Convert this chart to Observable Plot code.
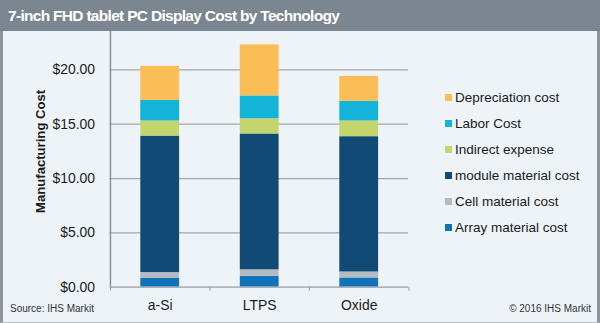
<!DOCTYPE html>
<html><head><meta charset="utf-8">
<script src="https://cdn.jsdelivr.net/npm/d3@7"></script>
<script src="https://cdn.jsdelivr.net/npm/@observablehq/plot@0.6"></script>
<style>
html,body{margin:0;padding:0;}
body{width:600px;height:323px;overflow:hidden;font-family:Arial,"Liberation Sans",sans-serif;}
#wrap{position:relative;width:600px;height:323px;background:#eef3f8;box-sizing:border-box;border-left:3px solid #8e959d;border-right:3px solid #8e959d;border-bottom:1px solid #b5bbc1;}
#title{position:absolute;left:-3px;top:0;width:600px;height:31px;background:#7c8691;color:#fff;font-weight:bold;font-size:15.5px;line-height:32px;padding-left:8px;box-sizing:border-box;letter-spacing:-0.7px;}
#chart{position:absolute;left:-3px;top:31px;}
#legend{position:absolute;left:442px;top:89px;}
.li{height:26px;line-height:18px;font-size:13.5px;color:#1a1a1a;white-space:nowrap;}
.sw{display:inline-block;width:7px;height:7px;margin-right:3px;vertical-align:1px;}
#src{position:absolute;left:7px;top:303px;font-size:10px;color:#333;}
#copy{position:absolute;right:6px;top:303px;font-size:10px;color:#333;}
</style></head>
<body>
<div id="wrap">
<div id="title">7-inch FHD tablet PC Display Cost by Technology</div>
<div id="chart"></div>
<div id="legend"></div>
<div id="src">Source: IHS Markit</div>
<div id="copy">© 2016 IHS Markit</div>
</div>
<script>
const categories = ["a-Si", "LTPS", "Oxide"];
const seriesNames = ["Array material cost", "Cell material cost", "module material cost", "Indirect expense", "Labor Cost", "Depreciation cost"];
const seriesColors = ["#1173b9", "#b3bac2", "#114a75", "#c3d56b", "#14b4d8", "#fbbd55"];
const arrayMaterial = [0.80, 1.00, 0.85];
const cellMaterial = [0.55, 0.60, 0.55];
const moduleMaterial = [12.55, 12.50, 12.45];
const indirectExpense = [1.40, 1.40, 1.45];
const laborCost = [1.90, 2.10, 1.80];
const depreciationCost = [3.13, 4.70, 2.30];
const yTicks = [0, 5, 10, 15, 20];

const seriesValues = [arrayMaterial, cellMaterial, moduleMaterial, indirectExpense, laborCost, depreciationCost];
const rows = [];
seriesNames.forEach((s, i) => categories.forEach((c, j) => rows.push({tech: c, series: s, value: seriesValues[i][j]})));

const plot = Plot.plot({
  width: 600, height: 292,
  marginLeft: 110, marginRight: 190, marginTop: 0, marginBottom: 35,
  style: {background: "transparent", fontFamily: "Arial, 'Liberation Sans', sans-serif"},
  x: {domain: categories, paddingInner: 0.61, paddingOuter: 0.305},
  y: {domain: [0, 23.53]},
  color: {domain: seriesNames, range: seriesColors},
  marks: [
    Plot.ruleY(yTicks.filter(d => d > 0), {stroke: "#a3a6aa", strokeWidth: 1.2}),
    Plot.barY(rows, {x: "tech", y: "value", fill: "series", order: seriesNames}),
    Plot.ruleY([0], {stroke: "#9a9ea3", strokeWidth: 1.2}),
    Plot.ruleX(categories, {x: d => d, dx: -50, y1: 0, y2: 0, insetBottom: -4, stroke: "#9a9ea3"}),
    Plot.ruleX(categories.slice(-1), {x: d => d, dx: 50, y1: 0, y2: 0, insetBottom: -4, stroke: "#9a9ea3"}),
    Plot.ruleX(categories.slice(0, 1), {x: d => d, dx: -50, stroke: "#8d9196", strokeWidth: 1.5}),
    Plot.axisY({ticks: yTicks, tickFormat: d => "$" + d.toFixed(2), tickSize: 0, tickPadding: 15, fontSize: 14, color: "#1a1a1a",
      label: "Manufacturing Cost", labelAnchor: "center", labelArrow: "none", labelOffset: 75}),
    Plot.axisX({tickSize: 0, tickPadding: 13, fontSize: 14, color: "#1a1a1a", label: null})
  ]
});
d3.select(plot).selectAll("g[aria-label='y-axis label'] text").attr("font-weight", "bold").attr("font-size", 13.2).attr("dx", 8);
document.getElementById("chart").appendChild(plot);

const leg = document.getElementById("legend");
for (let i = seriesNames.length - 1; i >= 0; i--) {
  const d = document.createElement("div");
  d.className = "li";
  d.innerHTML = `<span class="sw" style="background:${seriesColors[i]}"></span>${seriesNames[i]}`;
  leg.appendChild(d);
}
</script>
</body></html>
